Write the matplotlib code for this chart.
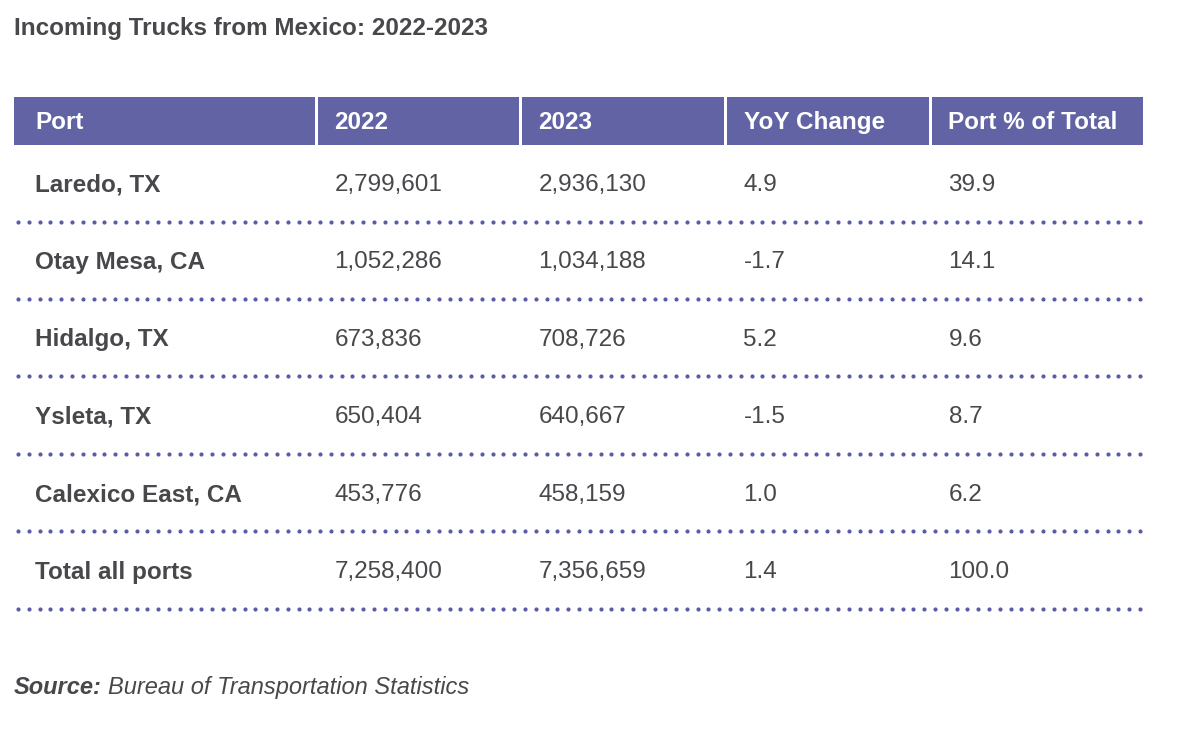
import matplotlib.pyplot as plt
from matplotlib.patches import Rectangle
import numpy as np

plt.rcParams['font.family'] = ['Liberation Sans', 'DejaVu Sans']

# table data
columns = ['Port', '2022', '2023', 'YoY Change', 'Port % of Total']
ports = ['Laredo, TX', 'Otay Mesa, CA', 'Hidalgo, TX', 'Ysleta, TX',
         'Calexico East, CA', 'Total all ports']
trucks_2022 = [2799601, 1052286, 673836, 650404, 453776, 7258400]
trucks_2023 = [2936130, 1034188, 708726, 640667, 458159, 7356659]
yoy_change = [4.9, -1.7, 5.2, -1.5, 1.0, 1.4]
pct_total = [39.9, 14.1, 9.6, 8.7, 6.2, 100.0]

title = 'Incoming Trucks from Mexico: 2022-2023'
source_label = 'Source:'
source_text = 'Bureau of Transportation Statistics'

header_color = '#6163a5'
dot_color = '#5a5ca8'
text_color = '#48484c'

fig = plt.figure(figsize=(12, 7.35), dpi=100)
ax = fig.add_axes([0, 0, 1, 1])
ax.set_xlim(0, 1200)
ax.set_ylim(735, 0)
ax.axis('off')

# layout (pixels)
edges = [14, 316.5, 520.5, 725.5, 930.5, 1143]
gap = 3
header_top, header_bot = 97, 145
row_y0 = 185
row_step = 77.4
line_off = 36.5


def pad(i):
    return 21 if i == 0 else 18


ax.text(14, 28, title, fontsize=17.5, fontweight='bold', color=text_color,
        va='center', ha='left')

# header
for i, col in enumerate(columns):
    left = edges[i] + (gap / 2 if i > 0 else 0)
    right = edges[i + 1] - (gap / 2 if i < len(columns) - 1 else 0)
    ax.add_patch(Rectangle((left, header_top), right - left,
                           header_bot - header_top, color=header_color,
                           lw=0))
    ax.text(edges[i] + pad(i), (header_top + header_bot) / 2 + 1,
            col, fontsize=17.5, fontweight='bold', color='white',
            va='center', ha='left')

# rows
dot_x = np.linspace(18, 1140, 105)
for r, port in enumerate(ports):
    y = row_y0 + r * row_step
    cells = [port, f'{trucks_2022[r]:,}', f'{trucks_2023[r]:,}',
             f'{yoy_change[r]:.1f}', f'{pct_total[r]:.1f}']
    for i, val in enumerate(cells):
        ax.text(edges[i] + pad(i), y, val,
                fontsize=17.5, color=text_color,
                fontweight='bold' if i == 0 else 'normal',
                va='center', ha='left')
    ax.plot(dot_x, np.full_like(dot_x, y + line_off), 'o', ms=3,
            color=dot_color, mec='none')

# source line: bold italic label, then italic text on the same baseline
src_base = 694
t1 = ax.text(14, src_base, source_label, fontsize=17, fontweight='bold',
             fontstyle='italic', color=text_color, va='baseline', ha='left')
fig.canvas.draw()
bb = t1.get_window_extent().transformed(ax.transData.inverted())
ax.text(bb.x1 + 6, src_base, source_text, fontsize=17,
        fontstyle='italic', color=text_color, va='baseline', ha='left')

fig.savefig('out.png', dpi=100, facecolor='white')
